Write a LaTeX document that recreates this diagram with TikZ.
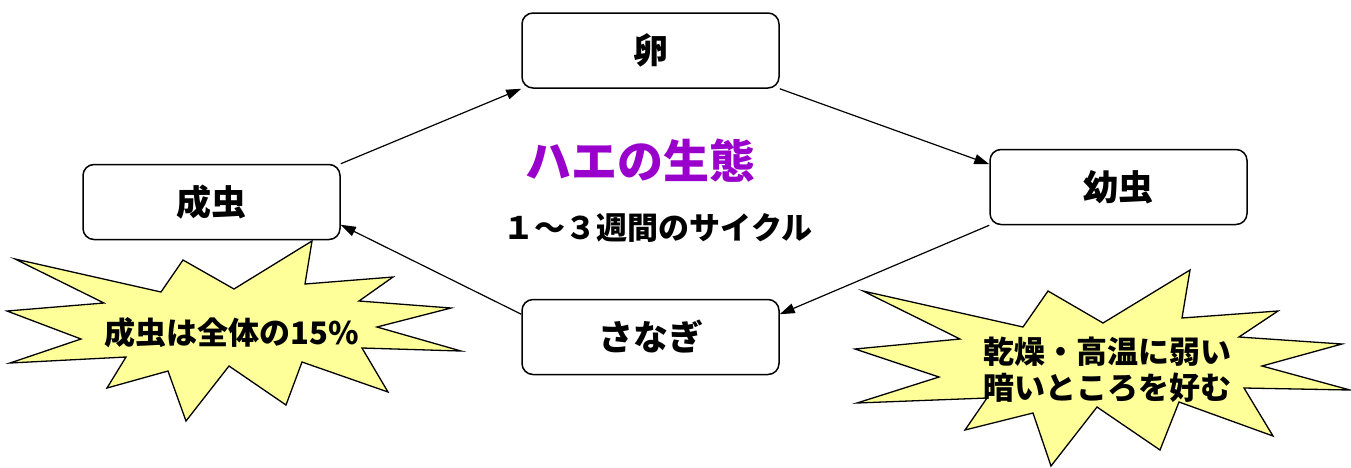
\documentclass[tikz,border=0pt]{standalone}
\usepackage{fontspec}
\newfontfamily\cjk{Noto Sans CJK JP}
\usetikzlibrary{arrows.meta,calc}
\definecolor{burst}{RGB}{255,255,153}
\definecolor{titlec}{RGB}{153,0,204}
\tikzset{
  stage/.style={draw=black,line width=1.5pt,rounded corners=11pt,minimum width=257pt,minimum height=75pt,inner sep=0pt,fill=white,font=\cjk\bfseries\fontsize{35}{40}\selectfont},
  flow/.style={line width=1.2pt,-{Triangle[length=15pt,width=10pt]}},
  burstshape/.style={draw=black,line width=1.3pt,fill=burst,line join=miter},
  bursttext/.style={font=\cjk\bfseries\fontsize{31}{36}\selectfont,align=center,inner sep=0pt}
}
\begin{document}
\begin{tikzpicture}[x=1pt,y=-1pt]
\useasboundingbox (0,0) rectangle (1351,467);
% starbursts
\draw[burstshape] (15,259)--(161,292)--(183,260)--(234,289)--(312,241)--(305,284)--(393,277)--(359,301)--(451,308)--(377,327)--(461,351)--(362,348)--(388,392)--(302,362)--(286,405)--(229,366)--(186,421)--(168,371)--(107,388)--(126,357)--(10,363)--(81,339)--(7,311)--(104,303)--cycle;
\draw[burstshape] (863,291)--(1023,327)--(1048,291)--(1103,323)--(1190,270)--(1182,318)--(1278,311)--(1239,337)--(1342,344)--(1262,366)--(1350,390)--(1244,388)--(1273,436)--(1179,402)--(1160,450)--(1097,407)--(1051,466)--(1033,413)--(965,430)--(987,398)--(857,403)--(939,377)--(855,349)--(960,339)--cycle;
\node[bursttext] (note1) at (232,333) {成虫は全体の15\%};
\node[bursttext] (note2) at (1107,370) {乾燥・高温に弱い\\暗いところを好む};
% stages
\node[stage] (egg) at (650.5,50.5) {卵};
\node[stage] (larva) at (1118.5,187) {幼虫};
\node[stage] (pupa) at (650.5,337) {さなぎ};
\node[stage] (adult) at (211.5,202) {成虫};
% title
\node[font=\cjk\bfseries\fontsize{46}{50}\selectfont,text=titlec,inner sep=0pt] (title) at (640,161) {ハエの生態};
\node[font=\cjk\bfseries\fontsize{31}{34}\selectfont,inner sep=0pt] (sub) at (658,228) {１～３週間のサイクル};
% arrows
\draw[flow] (adult.north east) -- (egg.south west);
\draw[flow] (egg.south east) -- (larva.170);
\draw[flow] (larva.south west) -- (pupa.10);
\draw[flow] (pupa.170) -- (adult.-10);
\end{tikzpicture}
\end{document}
